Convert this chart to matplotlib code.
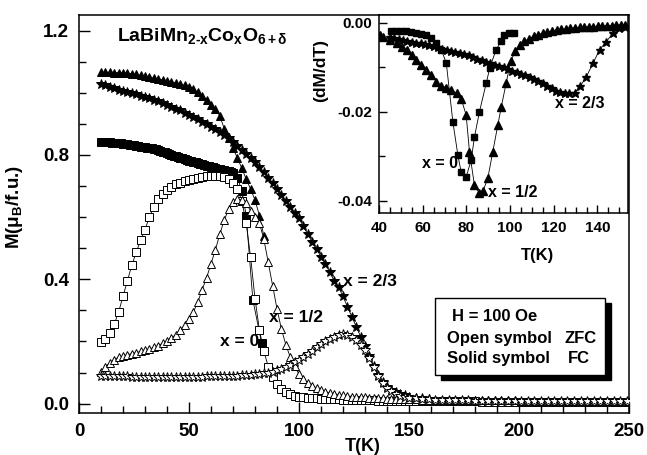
import matplotlib
matplotlib.use("Agg")
import matplotlib.pyplot as plt
from matplotlib.patches import Rectangle
from matplotlib.ticker import MultipleLocator, FormatStrFormatter

plt.rcParams.update({
    "font.family": "Liberation Sans", "font.weight": "bold",
    "mathtext.fontset": "custom", "mathtext.rm": "Liberation Sans:bold",
    "mathtext.it": "Liberation Sans:bold", "mathtext.bf": "Liberation Sans:bold",
    "axes.unicode_minus": False,
})

# ---- main panel: M(T), ZFC (open) / FC (solid) ----
T_FC0 = [10, 11, 12, 13, 14, 15, 16, 17, 18, 19, 20, 21, 22, 23, 24, 25, 26, 27, 28, 29,
         30, 31, 32, 33, 34, 35, 36, 37, 38, 39, 40, 41, 42, 43, 44, 45, 46, 47, 48, 49,
         50, 51, 52, 53, 54, 55, 56, 57, 58, 59, 60, 61, 62, 63, 64, 65, 66, 67, 68, 69,
         70, 72, 74, 76, 79, 83]
M_FC0 = [0.840, 0.840, 0.840, 0.840, 0.840, 0.839, 0.839, 0.838, 0.838, 0.837, 0.836, 0.835,
         0.834, 0.833, 0.832, 0.831, 0.830, 0.828, 0.827, 0.825, 0.824, 0.823, 0.822, 0.821,
         0.819, 0.818, 0.816, 0.813, 0.811, 0.808, 0.806, 0.803, 0.801, 0.798, 0.796, 0.793,
         0.791, 0.789, 0.786, 0.784, 0.782, 0.780, 0.778, 0.776, 0.774, 0.772, 0.770, 0.768,
         0.766, 0.764, 0.762, 0.760, 0.758, 0.756, 0.755, 0.753, 0.751, 0.749, 0.747, 0.745,
         0.742, 0.727, 0.685, 0.605, 0.335, 0.195]

T2 = [10, 12, 14, 16, 18, 20, 22, 24, 26, 28, 30, 32, 34, 36, 38, 40, 42, 44, 46, 48,
      50, 52, 54, 56, 58, 60, 62, 64, 66, 68, 70, 72, 74, 76, 78, 80, 82, 84, 86, 88,
      90, 92, 94, 96, 98, 100, 102, 104, 106, 108, 110, 112, 114, 116, 118, 120, 122, 124,
      126, 128, 130, 132, 134, 136, 138, 140, 142, 144, 146, 148, 150]
T_TAIL = [153, 156, 159, 162, 165, 168, 171, 174, 177, 180, 183, 186, 189, 192, 195, 198,
          201, 204, 207, 210, 213, 216, 219, 222, 225, 228, 231, 234, 237, 240, 243, 246, 249]

M_ZFC0 = [0.199, 0.208, 0.226, 0.255, 0.295, 0.345, 0.395, 0.445, 0.487, 0.525, 0.560, 0.600,
          0.633, 0.658, 0.675, 0.688, 0.697, 0.705, 0.711, 0.716, 0.720, 0.724, 0.727, 0.729,
          0.731, 0.732, 0.733, 0.732, 0.729, 0.722, 0.711, 0.690, 0.653, 0.580, 0.471, 0.338,
          0.237, 0.170, 0.119, 0.085, 0.063, 0.047, 0.037, 0.030, 0.026, 0.023, 0.021, 0.019,
          0.018, 0.017, 0.016, 0.015, 0.015, 0.014, 0.014, 0.013, 0.013, 0.012, 0.012, 0.012,
          0.011, 0.011, 0.011, 0.010, 0.010, 0.010, 0.010, 0.009, 0.009, 0.009, 0.009,
          0.009, 0.008, 0.008, 0.008, 0.008, 0.007, 0.007, 0.007, 0.007, 0.007, 0.006, 0.006,
          0.006, 0.006, 0.006, 0.006, 0.006, 0.005, 0.005, 0.005, 0.005, 0.005, 0.005, 0.005,
          0.005, 0.005, 0.004, 0.004, 0.004, 0.004, 0.004, 0.004, 0.004]

M_FC12 = [1.066, 1.066, 1.066, 1.065, 1.065, 1.064, 1.063, 1.061, 1.059, 1.056, 1.053, 1.050,
          1.047, 1.044, 1.041, 1.038, 1.035, 1.032, 1.028, 1.024, 1.018, 1.011, 1.002, 0.991,
          0.978, 0.962, 0.948, 0.925, 0.885, 0.853, 0.822, 0.790, 0.757, 0.722, 0.690, 0.655,
          0.605, 0.540]
M_ZFC12 = [0.103, 0.119, 0.132, 0.142, 0.149, 0.153, 0.157, 0.161, 0.164, 0.168, 0.172, 0.176,
           0.181, 0.187, 0.194, 0.202, 0.211, 0.222, 0.236, 0.253, 0.272, 0.295, 0.327, 0.367,
           0.405, 0.450, 0.495, 0.545, 0.590, 0.625, 0.648, 0.658, 0.655, 0.645, 0.620, 0.600,
           0.580, 0.530, 0.455, 0.380, 0.305, 0.240, 0.190, 0.150, 0.120, 0.095, 0.080, 0.068,
           0.058, 0.050, 0.044, 0.039, 0.035, 0.032, 0.029, 0.027, 0.025, 0.023, 0.022, 0.021,
           0.020, 0.019, 0.018, 0.018, 0.017, 0.016, 0.016, 0.015, 0.015, 0.014, 0.014,
           0.014, 0.013, 0.013, 0.013, 0.013, 0.012, 0.012, 0.012, 0.012, 0.012, 0.011, 0.011,
           0.011, 0.011, 0.011, 0.011, 0.010, 0.010, 0.010, 0.010, 0.010, 0.010, 0.010, 0.010,
           0.009, 0.009, 0.009, 0.009, 0.009, 0.009, 0.009, 0.009, 0.009]

M_FC23 = [1.028, 1.024, 1.019, 1.014, 1.010, 1.006, 1.002, 0.999, 0.995, 0.991, 0.987, 0.983,
          0.978, 0.972, 0.967, 0.961, 0.955, 0.949, 0.943, 0.936, 0.929, 0.922, 0.915, 0.907,
          0.899, 0.891, 0.882, 0.873, 0.864, 0.855, 0.843, 0.830, 0.817, 0.804, 0.790, 0.776,
          0.760, 0.744, 0.727, 0.709, 0.690, 0.671, 0.652, 0.633, 0.614, 0.596, 0.570, 0.545,
          0.520, 0.497, 0.472, 0.450, 0.422, 0.395, 0.375, 0.345, 0.312, 0.280, 0.248, 0.216,
          0.185, 0.153, 0.120, 0.092, 0.070, 0.053, 0.043, 0.036, 0.031, 0.027, 0.023,
          0.019, 0.017, 0.015]
M_ZFC23 = [0.090, 0.089, 0.089, 0.088, 0.088, 0.088, 0.088, 0.087, 0.087, 0.087, 0.087, 0.087,
           0.087, 0.087, 0.087, 0.087, 0.087, 0.087, 0.087, 0.087, 0.087, 0.087, 0.087, 0.087,
           0.088, 0.088, 0.088, 0.088, 0.089, 0.089, 0.090, 0.090, 0.091, 0.092, 0.093, 0.094,
           0.096, 0.098, 0.100, 0.103, 0.107, 0.112, 0.118, 0.125, 0.133, 0.141, 0.150, 0.160,
           0.170, 0.181, 0.191, 0.200, 0.209, 0.216, 0.221, 0.223, 0.221, 0.214, 0.204, 0.190,
           0.172, 0.148, 0.118, 0.090, 0.068, 0.052, 0.040, 0.032, 0.026, 0.022, 0.019,
           0.017, 0.015, 0.014, 0.013, 0.012, 0.012, 0.011, 0.011, 0.011, 0.010, 0.010, 0.010,
           0.010, 0.010, 0.009, 0.009, 0.009, 0.009, 0.009, 0.009, 0.009, 0.009, 0.008, 0.008,
           0.008, 0.008, 0.008, 0.008, 0.008, 0.008, 0.008, 0.008, 0.008]

# ---- inset: dM/dT (FC) ----
TI_0 = [45.6, 47.9, 50.2, 52.5, 54.7, 57.0, 59.3, 61.6, 63.9, 66.2, 68.5, 70.8, 73.8, 76.1,
        77.6, 79.9, 82.2, 83.7, 86.0, 89.1, 90.7, 93.6, 95.9, 97.4, 99.7, 102.0]
D_0 = [-0.0019, -0.0019, -0.0019, -0.0019, -0.0021, -0.0023, -0.0025, -0.0028, -0.0034,
       -0.0045, -0.0060, -0.0090, -0.0222, -0.0297, -0.0335, -0.0346, -0.0308, -0.0256,
       -0.0199, -0.0135, -0.0101, -0.0060, -0.0041, -0.0026, -0.0023, -0.0022]
TI_12 = [40.5, 42.0, 45.0, 48.1, 50.3, 52.6, 54.9, 57.1, 59.4, 61.7, 64.0, 66.2, 68.5, 70.8,
         73.0, 75.6, 77.6, 79.9, 81.4, 83.7, 86.0, 87.6, 89.8, 92.1, 94.4, 96.0, 98.2, 100.3,
         102.4, 104.5, 106.6, 108.7, 110.8, 112.9, 115.0, 117.1, 119.2, 121.3, 123.4, 125.5,
         127.6, 129.7, 131.8, 133.9, 136.0, 138.1, 140.2, 142.3, 144.4, 146.5, 148.6, 150.7,
         152.8]
D_12 = [-0.0028, -0.0031, -0.0038, -0.0045, -0.0053, -0.0060, -0.0071, -0.0083, -0.0094,
        -0.0105, -0.0117, -0.0132, -0.0141, -0.0145, -0.0150, -0.0158, -0.0170, -0.0207,
        -0.0289, -0.0365, -0.0383, -0.0378, -0.0349, -0.0289, -0.0229, -0.0188, -0.0135,
        -0.0085, -0.0064, -0.0050, -0.0041, -0.0035, -0.0030, -0.0026, -0.0023, -0.0020,
        -0.0018, -0.0016, -0.0014, -0.0013, -0.0012, -0.0011, -0.0010, -0.0009, -0.0008,
        -0.0008, -0.0007, -0.0007, -0.0006, -0.0006, -0.0005, -0.0005, -0.0005]
TI_23 = [45, 47, 49, 51, 53, 55, 57, 59, 61, 63, 65, 67, 69, 71, 73, 75, 77, 79, 81, 83, 85,
         87, 89, 91, 93, 95, 97, 99, 101, 103, 105, 107, 109, 111, 113, 115, 117, 119, 121,
         123, 125, 127, 129.5, 132.1, 134.9, 137.9, 141.0, 144.0, 147.3, 150.0, 152.6]
D_23 = [-0.0032, -0.0034, -0.0037, -0.0039, -0.0040, -0.0042, -0.0044, -0.0046, -0.0048,
        -0.0050, -0.0052, -0.0055, -0.0058, -0.0061, -0.0063, -0.0065, -0.0067, -0.0070,
        -0.0073, -0.0076, -0.0080, -0.0084, -0.0088, -0.0091, -0.0094, -0.0097, -0.0100,
        -0.0104, -0.0108, -0.0111, -0.0114, -0.0118, -0.0122, -0.0126, -0.0131, -0.0136,
        -0.0141, -0.0147, -0.0152, -0.0155, -0.0157, -0.0158, -0.0157, -0.0142, -0.0121,
        -0.0091, -0.0060, -0.0042, -0.0022, -0.0012, -0.0009]


def series(ax, t, m, marker, ms, filled, z=3):
    ax.plot(t, m, "-", color="black", lw=0.6, marker=marker, ms=ms, mew=0.7,
            mec="black", mfc=("black" if filled else "white"), zorder=z)


def style(ax, maj_len, min_len, size):
    ax.tick_params(which="both", direction="in", top=False, right=False, width=1.0,
                   labelsize=size)
    ax.tick_params(which="major", length=maj_len)
    ax.tick_params(which="minor", length=min_len)
    for s in ax.spines.values():
        s.set_linewidth(1.1)


fig = plt.figure(figsize=(6.47, 4.55), dpi=100)
ax = fig.add_axes([0.1221, 0.0923, 0.8501, 0.8747])

series(ax, T_FC0, M_FC0, "s", 5.3, True)
series(ax, T2 + T_TAIL, M_ZFC0, "s", 5.3, False, 4)
series(ax, T2[:len(M_FC12)], M_FC12, "^", 6.2, True)
series(ax, T2 + T_TAIL, M_ZFC12, "^", 6.2, False, 4)
series(ax, T2 + T_TAIL[:3], M_FC23, "*", 7.8, True)
series(ax, T2 + T_TAIL, M_ZFC23, "*", 7.8, False, 4)

ax.set_xlim(0, 250)
ax.set_ylim(-0.03, 1.25)
ax.xaxis.set_major_locator(MultipleLocator(50))
ax.xaxis.set_minor_locator(MultipleLocator(10))
ax.yaxis.set_major_locator(MultipleLocator(0.4))
ax.yaxis.set_minor_locator(MultipleLocator(0.1))
ax.yaxis.set_major_formatter(FormatStrFormatter("%.1f"))
style(ax, 8, 5, 13.5)
ax.tick_params(axis="x", pad=7)
ax.tick_params(axis="y", pad=7)
ax.set_xlabel("T(K)", fontsize=13, fontweight="bold")
ax.xaxis.set_label_coords(0.515, -0.063)
ax.set_ylabel(r"M($\mathbf{\mu_B}$/f.u.)", fontsize=13.5, fontweight="bold")
ax.yaxis.set_label_coords(-0.098, 0.518)

ax.text(0.069, 0.935,
        r"LaBiMn$_{\mathbf{2\text{-}x}}$Co$_{\mathbf{x}}$O$_{\mathbf{6+\delta}}$",
        transform=ax.transAxes, fontsize=14, fontweight="bold", va="baseline")
ax.text(64.1, 0.200, "x = 0", fontsize=12.5, fontweight="bold", va="center", zorder=6)
ax.text(86.5, 0.277, "x = 1/2", fontsize=12.5, fontweight="bold", va="center", zorder=6)
ax.text(120.1, 0.394, "x = 2/3", fontsize=12.5, fontweight="bold", va="center", zorder=6)

# note box with drop shadow
bx, by, bw, bh = 0.647, 0.0955, 0.309, 0.1935
ax.add_patch(Rectangle((bx + 0.011, by - 0.0126), bw, bh, transform=ax.transAxes,
                       facecolor="black", edgecolor="black", zorder=7))
ax.add_patch(Rectangle((bx, by), bw, bh, transform=ax.transAxes, facecolor="white",
                       edgecolor="black", lw=1.0, zorder=8))
kw = dict(transform=ax.transAxes, fontsize=12, fontweight="bold", va="center", zorder=9)
ax.text(0.678, 0.242, "H = 100 Oe", **kw)
ax.text(0.669, 0.188, "Open symbol", **kw)
ax.text(0.882, 0.188, "ZFC", **kw)
ax.text(0.669, 0.137, "Solid symbol", **kw)
ax.text(0.889, 0.137, "FC", **kw)

# inset
ins = fig.add_axes([0.5858, 0.5319, 0.3849, 0.4352])
ins.plot(TI_0, D_0, "-", color="black", lw=0.6, marker="s", ms=4.8, mfc="black",
         mec="black", zorder=3)
ins.plot(TI_12, D_12, "-", color="black", lw=0.6, marker="^", ms=5.4, mfc="black",
         mec="black", zorder=3)
ins.plot(TI_23, D_23, "-", color="black", lw=0.6, marker="*", ms=6.4, mfc="black",
         mec="black", zorder=3)
ins.set_xlim(40, 154)
ins.set_ylim(-0.0427, 0.0018)
ins.xaxis.set_major_locator(MultipleLocator(20))
ins.xaxis.set_minor_locator(MultipleLocator(5))
ins.yaxis.set_major_locator(MultipleLocator(0.02))
ins.yaxis.set_minor_locator(MultipleLocator(0.01))
ins.yaxis.set_major_formatter(FormatStrFormatter("%.2f"))
style(ins, 6, 4, 11)
ins.tick_params(axis="x", pad=6)
ins.tick_params(axis="y", pad=5)
ins.set_xlabel("T(K)", fontsize=12, fontweight="bold")
ins.xaxis.set_label_coords(0.635, -0.177)
ins.set_ylabel("(dM/dT)", fontsize=12.5, fontweight="bold")
ins.yaxis.set_label_coords(-0.205, 0.72)
ins.text(120.5, -0.0180, "x = 2/3", fontsize=11.5, fontweight="bold", va="center")
ins.text(59.5, -0.0316, "x = 0", fontsize=11.5, fontweight="bold", va="center")
ins.text(90.0, -0.0380, "x = 1/2", fontsize=11.5, fontweight="bold", va="center")

fig.savefig("out.png", dpi=100)
